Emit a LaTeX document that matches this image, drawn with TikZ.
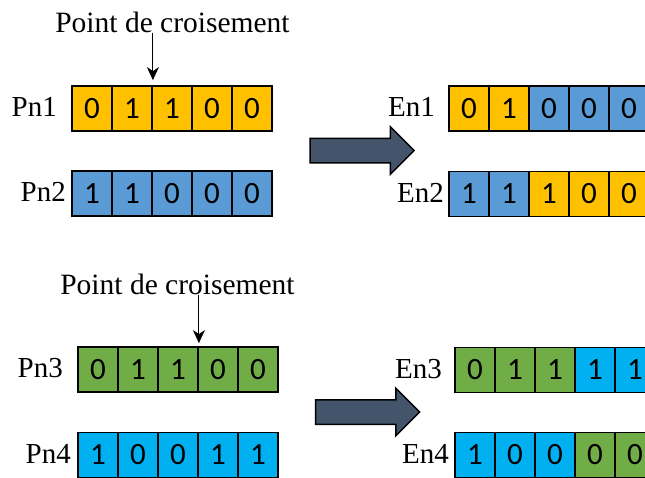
\documentclass[tikz,border=0pt]{standalone}
\usepackage{fontspec}
\setmainfont{Liberation Serif}
\newfontfamily\bitfont{Carlito}
\usetikzlibrary{shapes.arrows, arrows.meta}

\definecolor{geneorange}{HTML}{FFC000}
\definecolor{geneblue}{HTML}{5B9BD5}
\definecolor{genegreen}{HTML}{70AD47}
\definecolor{genecyan}{HTML}{00B0F0}
\definecolor{arrowgray}{HTML}{44546A}

\begin{document}
\begin{tikzpicture}[
    x=1pt, y=-1pt,
    bit/.style={rectangle, draw, line width=1.8pt, minimum width=40pt, minimum height=45pt, inner sep=0pt, font=\bitfont\fontsize{31}{34}\selectfont},
    rowname/.style={anchor=east, inner sep=0pt, font=\fontsize{29}{32}\selectfont},
    crosstext/.style={inner sep=0pt, font=\fontsize{29.5}{32}\selectfont},
    bigarrow/.style={single arrow, draw, fill=arrowgray, line width=1.5pt, inner xsep=0pt, inner ysep=11.5pt, single arrow head extend=11.5pt, minimum height=104pt}
]

\useasboundingbox (0,0) rectangle (645,477);

% Parents 1 and 2
\foreach \v [count=\i] in {0,1,1,0,0}
    \node[bit, fill=geneorange] (pn1-\i) at (52+40*\i, 108.5) {\v};
\foreach \v [count=\i] in {1,1,0,0,0}
    \node[bit, fill=geneblue] (pn2-\i) at (52+40*\i, 193.5) {\v};
\node[rowname] (lpn1) at (57, 107) {Pn1};
\node[rowname] (lpn2) at (66, 192) {Pn2};

% Crossover point 1
\node[crosstext] (cross1) at (172.5, 22) {Point de croisement};
\draw[-{Stealth[length=13pt, width=12pt, inset=4pt]}, line width=1pt, shorten >=5pt] (cross1.south -| pn1-2.north east) -- (pn1-2.north east);

% Shift arrow 1
\node[bigarrow] (shift1) at (356, 150.5) {};

% Children 1 and 2
\foreach \v/\c [count=\i] in {0/geneorange, 1/geneorange, 0/geneblue, 0/geneblue, 0/geneblue}
    \node[bit, fill=\c] (en1-\i) at (429+40*\i, 108.5) {\v};
\foreach \v/\c [count=\i] in {1/geneblue, 1/geneblue, 1/geneorange, 0/geneorange, 0/geneorange}
    \node[bit, fill=\c] (en2-\i) at (429+40*\i, 194) {\v};
\node[rowname] (len1) at (435, 107) {En1};
\node[rowname] (len2) at (444, 193) {En2};

% Parents 3 and 4
\foreach \v [count=\i] in {0,1,1,0,0}
    \node[bit, fill=genegreen] (pn3-\i) at (58+40*\i, 369.5) {\v};
\foreach \v [count=\i] in {1,0,0,1,1}
    \node[bit, fill=genecyan] (pn4-\i) at (58+40*\i, 455) {\v};
\node[rowname] (lpn3) at (63, 368) {Pn3};
\node[rowname] (lpn4) at (71, 454) {Pn4};

% Crossover point 2
\node[crosstext] (cross2) at (177.5, 284) {Point de croisement};
\draw[-{Stealth[length=13pt, width=12pt, inset=4pt]}, line width=1pt, shorten >=3pt] (cross2.south -| pn3-3.north east) -- (pn3-3.north east);

% Shift arrow 2
\node[bigarrow] (shift2) at (361.5, 412) {};

% Children 3 and 4
\foreach \v/\c [count=\i] in {0/genegreen, 1/genegreen, 1/genegreen, 1/genecyan, 1/genecyan}
    \node[bit, fill=\c] (en3-\i) at (435+40*\i, 370) {\v};
\foreach \v/\c [count=\i] in {1/genecyan, 0/genecyan, 0/genecyan, 0/genegreen, 0/genegreen}
    \node[bit, fill=\c] (en4-\i) at (435+40*\i, 455) {\v};
\node[rowname] (len3) at (442, 369) {En3};
\node[rowname] (len4) at (449, 454) {En4};

\end{tikzpicture}
\end{document}
